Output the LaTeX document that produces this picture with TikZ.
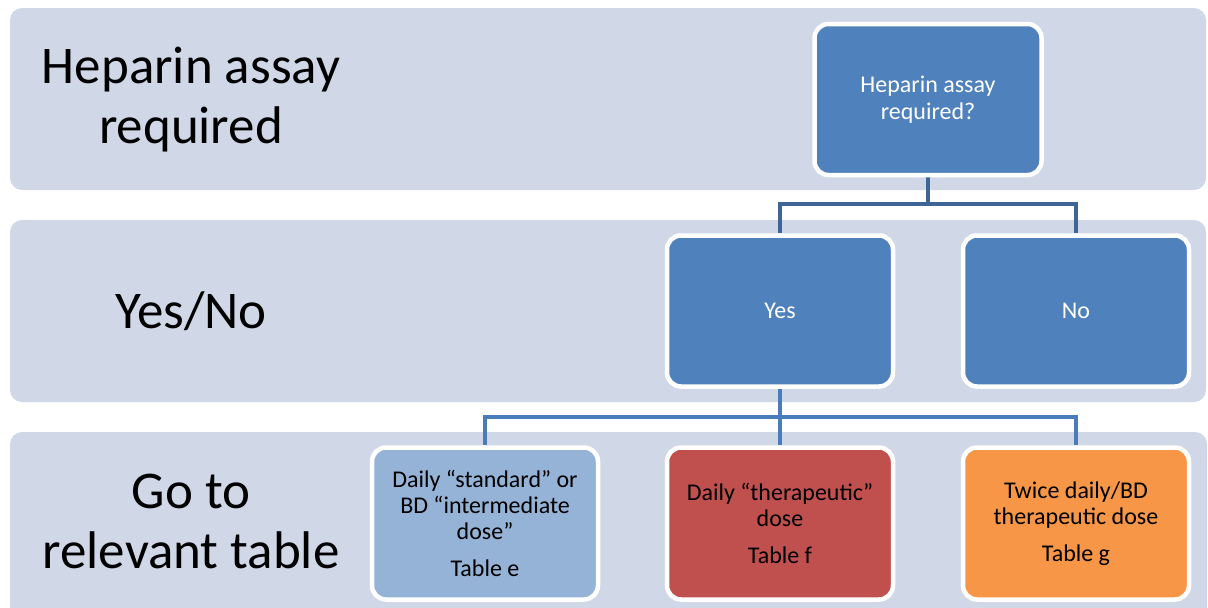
\documentclass[tikz,border=0pt]{standalone}
\usepackage{fontspec}
\setmainfont{Carlito}
\usetikzlibrary{backgrounds}
\definecolor{bandcol}{RGB}{208,216,232}
\definecolor{boxblue}{RGB}{79,129,189}
\definecolor{boxlight}{RGB}{149,179,215}
\definecolor{boxred}{RGB}{192,80,77}
\definecolor{boxorange}{RGB}{247,150,70}
\definecolor{connA}{RGB}{62,101,150}
\definecolor{connB}{RGB}{74,124,187}
\tikzset{
  band/.style={fill=bandcol, rounded corners=12pt},
  biglabel/.style={align=center, font=\fontsize{53}{60}\selectfont, text=black},
  flowbox/.style={draw=white, line width=4.5pt, rounded corners=14pt, minimum width=226pt, minimum height=151pt, align=center, inner sep=2pt},
  bluebox/.style={flowbox, fill=boxblue, text=white, font=\fontsize{24}{26.5}\selectfont},
  tablebox/.style={flowbox, text=black, minimum height=152pt, font=\fontsize{24}{25.8}\selectfont},
  connector/.style={line width=4.5pt},
}
\begin{document}
\begin{tikzpicture}[x=1pt,y=-1pt]
\useasboundingbox (0,0) rectangle (1208,608);
\clip (0,0) rectangle (1208,608);
% band labels
\node[biglabel] (l1) at (191,100) {Heparin assay\\required};
\node[biglabel] (l2) at (191,311) {Yes/No};
\node[biglabel] (l3) at (191,521) {Go to\\relevant table};
% boxes
\node[bluebox, minimum width=227pt] (q) at (928,99.5) {Heparin assay\\required?};
\node[bluebox] (yes) at (780,311) {Yes};
\node[bluebox] (no) at (1076,311) {No};
\node[tablebox, fill=boxlight] (te) at (485,523.5) {Daily “standard” or\\BD “intermediate\\dose”\\[11pt]Table e};
\node[tablebox, fill=boxred] (tf) at (780,523.5) {Daily “therapeutic”\\dose\\[11pt]Table f};
\node[tablebox, fill=boxorange] (tg) at (1076,523.5) {Twice daily/BD\\therapeutic dose\\[11pt]Table g};
\begin{scope}[on background layer]
% bands
\fill[band] (10,8) rectangle (1206,190);
\fill[band] (10,220) rectangle (1206,402);
\fill[band] (10,432) rectangle (1207,630);
% connectors
\coordinate (j1) at (928,204);
\coordinate (j2) at (780,417);
\draw[connector, connA] (q.south) -- (j1) -| (yes.north);
\draw[connector, connA] (j1) -| (no.north);
\draw[connector, connB] (yes.south) -- (j2) -| (te.north);
\draw[connector, connB] (j2) -- (tf.north);
\draw[connector, connB] (j2) -| (tg.north);
\end{scope}
\end{tikzpicture}
\end{document}
